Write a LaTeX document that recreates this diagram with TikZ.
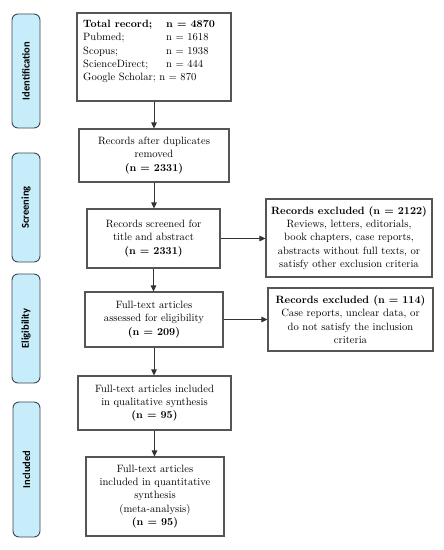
\documentclass[tikz,border=0pt]{standalone}
\usepackage{fontspec}
\newfontfamily\sidefont{Carlito}
\usetikzlibrary{arrows.meta}
\definecolor{sidefill}{HTML}{C8EDFA}
\definecolor{sidedraw}{HTML}{3C4650}
\definecolor{boxdraw}{HTML}{555555}
\definecolor{arrowc}{HTML}{333333}
\begin{document}
\begin{tikzpicture}[x=1pt,y=1pt,
  box/.style={draw=boxdraw, line width=1.1pt, inner sep=0pt, align=center,
    font=\fontsize{10.6}{13.3}\selectfont},
  side/.style={draw=sidedraw, fill=sidefill, line width=0.9pt, rounded corners=6pt,
    minimum width=28pt, inner sep=0pt},
  sidetext/.style={rotate=90, font=\sidefont\bfseries\fontsize{10.5}{12}\selectfont},
  arr/.style={draw=arrowc, line width=0.9pt, -{Triangle[length=6pt,width=5.5pt]}}]
\useasboundingbox (0,0) rectangle (444,-550);
% side labels
\node[side, minimum height=114pt] (s1) at (26,-71) {};
\node[sidetext] (s1t) at (s1.center) {Identification};
\node[side, minimum height=109pt] (s2) at (26,-207.5) {};
\node[sidetext] (s2t) at (s2.center) {Screening};
\node[side, minimum height=109pt] (s3) at (26,-328.5) {};
\node[sidetext] (s3t) at (s3.center) {Eligibility};
\node[side, minimum height=135pt, minimum width=27pt] (s4) at (26.5,-469.5) {};
\node[sidetext] (s4t) at (s4.center) {Included};
% box 1
\node[box, minimum width=154pt, minimum height=88pt] (b1) at (154,-57) {};
\node[anchor=north west, inner sep=0pt, align=left, font=\fontsize{10.6}{13.3}\selectfont] (b1t) at (83,-20)
  {\textbf{\makebox[83pt][l]{Total record;}n = 4870}\\
   \makebox[83pt][l]{Pubmed;}n = 1618\\
   \makebox[83pt][l]{Scopus;}n = 1938\\
   \makebox[83pt][l]{ScienceDirect;}n = 444\\
   Google Scholar; n = 870};
% main boxes
\node[box, minimum width=150pt, minimum height=53pt] (b2) at (154,-155.5)
  {Records after duplicates\\removed\\\textbf{(n = 2331)}};
\node[box, minimum width=133pt, minimum height=59pt] (b3) at (153.5,-238.5)
  {Records screened for\\title and abstract\\\textbf{(n = 2331)}};
\node[box, minimum width=166pt, minimum height=78pt] (e1) at (349,-238)
  {\textbf{Records excluded (n = 2122)}\\Reviews, letters, editorials,\\book chapters, case reports,\\abstracts without full texts, or\\satisfy other exclusion criteria};
\node[box, minimum width=138pt, minimum height=55pt] (b4) at (154,-319.5)
  {Full-text articles\\assessed for eligibility\\\textbf{(n = 209)}};
\node[box, minimum width=165pt, minimum height=63pt] (e2) at (350.5,-319.5)
  {\textbf{Records excluded (n = 114)}\\Case reports, unclear data, or\\do not satisfy the inclusion\\criteria};
\node[box, minimum width=153pt, minimum height=54pt] (b5) at (154.5,-403)
  {Full-text articles included\\in qualitative synthesis\\\textbf{(n = 95)}};
\node[box, minimum width=138pt, minimum height=79pt] (b6) at (155,-496.5)
  {Full-text articles\\included in quantitative\\synthesis\\(meta-analysis)\\\textbf{(n = 95)}};
% arrows
\draw[arr] (b1.south) -- (b1.south |- b2.north);
\draw[arr] (b2.south) -- (b2.south |- b3.north);
\draw[arr] (b3.east) -- (b3.east -| e1.west);
\draw[arr] (b3.south) -- (b3.south |- b4.north);
\draw[arr] (b4.east) -- (b4.east -| e2.west);
\draw[arr] (b4.south) -- (b4.south |- b5.north);
\draw[arr] (b5.south) -- (b5.south |- b6.north);
\end{tikzpicture}
\end{document}
